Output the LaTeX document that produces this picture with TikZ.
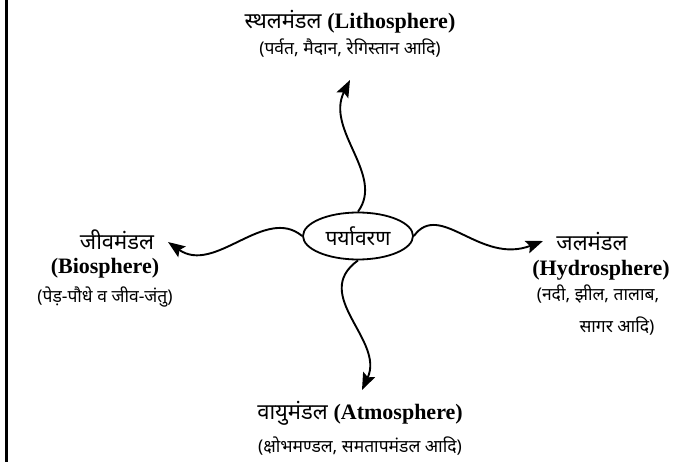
\documentclass[tikz,border=0pt]{standalone}
\usepackage{fontspec}
\setmainfont{Liberation Serif}
\newfontfamily\hindi[Script=Devanagari]{Noto Sans}
\usetikzlibrary{arrows.meta,shapes.geometric}

\tikzset{
  titre/.style={font=\fontsize{22}{25}\selectfont},
  exemple/.style={font=\hindi\fontsize{17.5}{20}\selectfont},
  fleche/.style={line width=1.9pt,-{Stealth[length=17pt,width=13pt,inset=3pt]}},
}

\begin{document}
\begin{tikzpicture}[x=1pt,y=-1pt]

\useasboundingbox (0,0) rectangle (691,462);

% Cadre
\draw[line width=3pt]
(6,0)
--
(6,462);

% Centre
\node[draw,ellipse,line width=1.8pt,minimum width=110pt,minimum height=47pt,inner sep=0pt,font=\hindi\fontsize{21}{23}\selectfont]
(env) at (358,236)
{पर्यावरण};

% Lithosphere
\node[titre] (litho) at (350,22)
{{\hindi स्थलमंडल} \textbf{(Lithosphere)}};
\node[exemple] (lithoex) at (350,48)
{(पर्वत, मैदान, रेगिस्तान आदि)};

% Biosphere
\node[titre] (bio) at (117,240)
{\hindi जीवमंडल};
\node[titre] (biolat) at (105,268)
{\textbf{(Biosphere)}};
\node[exemple] (bioex) at (105,297)
{(पेड़-पौधे व जीव-जंतु)};

% Hydrosphere
\node[titre] (hydro) at (592,242)
{\hindi जलमंडल};
\node[titre] (hydrolat) at (601,270)
{\textbf{(Hydrosphere)}};
\node[exemple] (hydroex) at (598,294)
{(नदी, झील, तालाब,};
\node[exemple] (hydroex2) at (617,326)
{सागर आदि)};

% Atmosphere
\node[titre] (atmo) at (360,413)
{{\hindi वायुमंडल} \textbf{(Atmosphere)}};
\node[exemple] (atmoex) at (360,446)
{(क्षोभमण्डल, समतापमंडल आदि)};

% Pointes
\coordinate (lithotip) at (350,80);
\coordinate (biotip) at (168,242);
\coordinate (hydrotip) at (543,241);
\coordinate (atmotip) at (362,390);

% Fleches
\draw[fleche]
(env.north)
.. controls (385,175) and (325,130) ..
(lithotip);

\draw[fleche]
(env.west)
.. controls (265,205) and (215,275) ..
(biotip);

\draw[fleche]
(env.east)
.. controls (440,200) and (480,265) ..
(hydrotip);

\draw[fleche]
(env.south)
.. controls (310,295) and (385,340) ..
(atmotip);

\end{tikzpicture}
\end{document}
